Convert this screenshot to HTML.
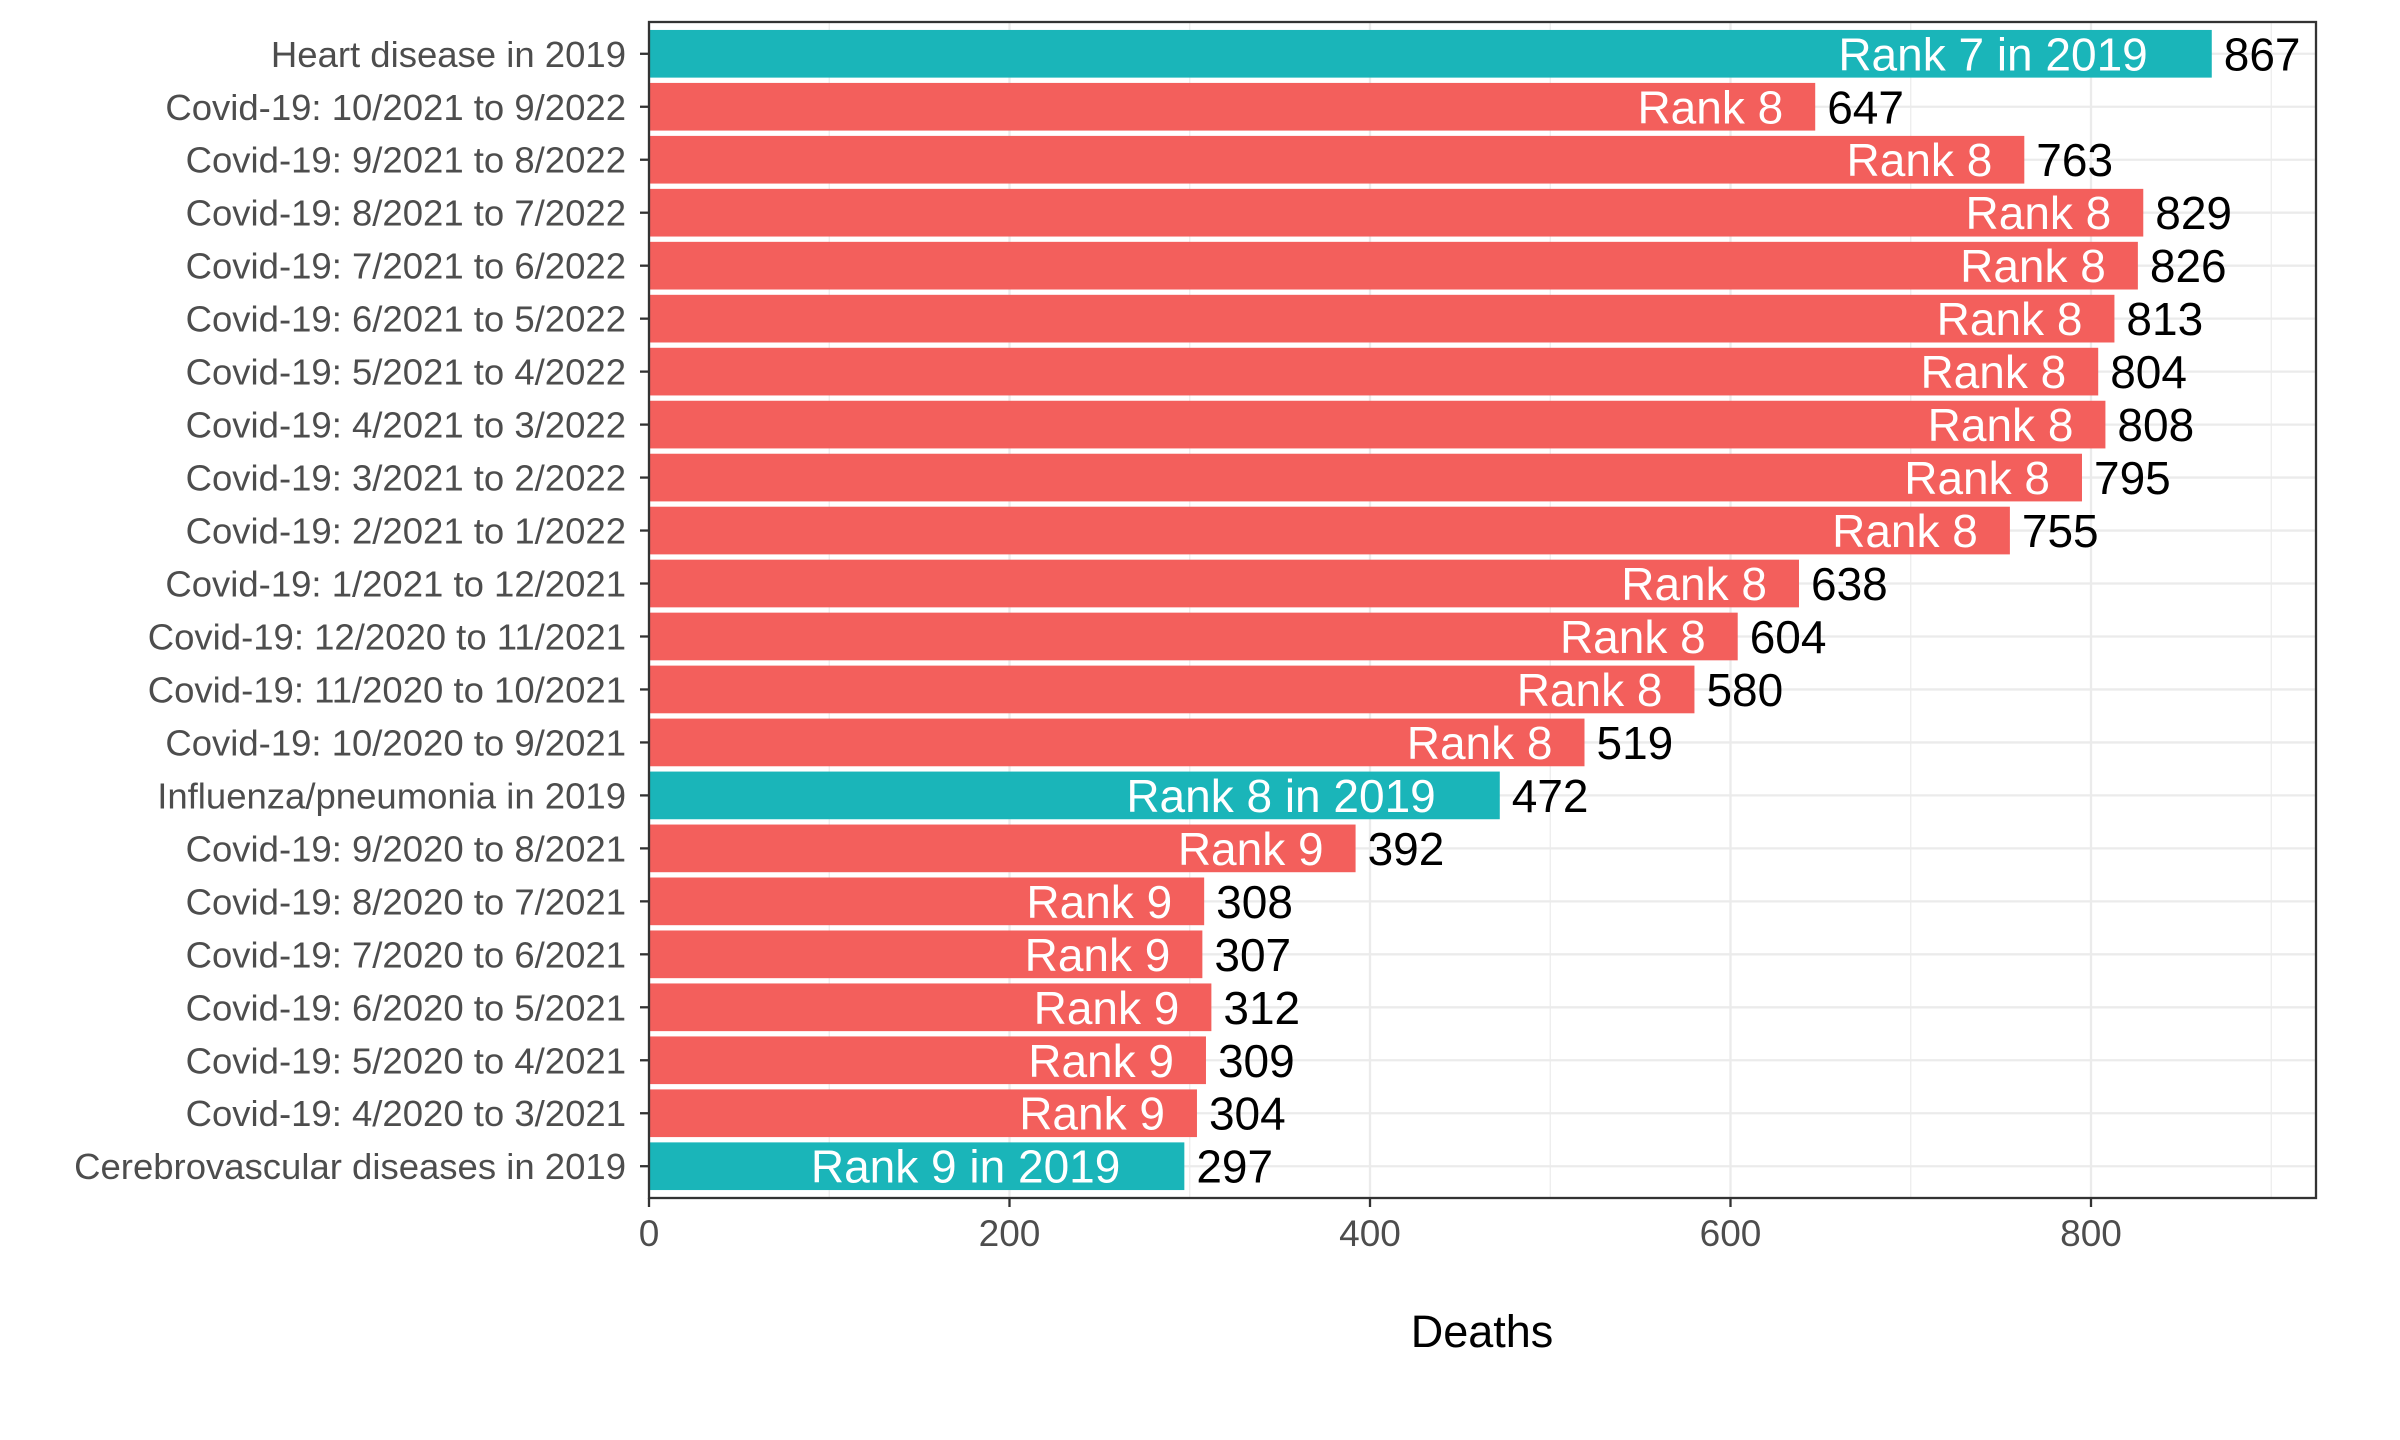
<!DOCTYPE html>
<html><head><meta charset="utf-8"><style>
html,body{margin:0;padding:0;background:#fff;}
svg{display:block;font-family:"Liberation Sans",Arial,sans-serif;}
</style></head><body>
<svg id="chart" width="2400" height="1440" viewBox="0 0 2400 1440" xmlns="http://www.w3.org/2000/svg">
<rect width="2400" height="1440" fill="#fff"/>
<g id="grid"></g>
<g id="bars"></g>
<g id="labels"></g>
<rect x="649" y="22" width="1667" height="1176" fill="none" stroke="#333" stroke-width="2.3"/>
<g id="yaxis"></g>
<g id="xaxis"></g>
<text x="1482" y="1347" font-size="45" text-anchor="middle" fill="#000">Deaths</text>
</svg>
<script>
const categories = ["Heart disease in 2019","Covid-19: 10/2021 to 9/2022","Covid-19: 9/2021 to 8/2022","Covid-19: 8/2021 to 7/2022","Covid-19: 7/2021 to 6/2022","Covid-19: 6/2021 to 5/2022","Covid-19: 5/2021 to 4/2022","Covid-19: 4/2021 to 3/2022","Covid-19: 3/2021 to 2/2022","Covid-19: 2/2021 to 1/2022","Covid-19: 1/2021 to 12/2021","Covid-19: 12/2020 to 11/2021","Covid-19: 11/2020 to 10/2021","Covid-19: 10/2020 to 9/2021","Influenza/pneumonia in 2019","Covid-19: 9/2020 to 8/2021","Covid-19: 8/2020 to 7/2021","Covid-19: 7/2020 to 6/2021","Covid-19: 6/2020 to 5/2021","Covid-19: 5/2020 to 4/2021","Covid-19: 4/2020 to 3/2021","Cerebrovascular diseases in 2019"];
const deaths = [867,647,763,829,826,813,804,808,795,755,638,604,580,519,472,392,308,307,312,309,304,297];
const rankLabels = ["Rank 7 in 2019","Rank 8","Rank 8","Rank 8","Rank 8","Rank 8","Rank 8","Rank 8","Rank 8","Rank 8","Rank 8","Rank 8","Rank 8","Rank 8","Rank 8 in 2019","Rank 9","Rank 9","Rank 9","Rank 9","Rank 9","Rank 9","Rank 9 in 2019"];
const isBaseline = [true,false,false,false,false,false,false,false,false,false,false,false,false,false,true,false,false,false,false,false,false,true];
const xTicks = [0,200,400,600,800];
const xMinor = [100,300,500,700,900];

const NS="http://www.w3.org/2000/svg";
const L=649,R=2316,T=22,B=1198;
const pxPerUnit=1.8025;
const x=v=>L+v*pxPerUnit;
const n=categories.length;
const step=(B-T)/(n-1+1.2);
const y=i=>T+(0.6+i)*step;
function mk(tag,attrs,parent){const e=document.createElementNS(NS,tag);for(const k in attrs)e.setAttribute(k,attrs[k]);parent.appendChild(e);return e;}
const grid=document.getElementById('grid'),bars=document.getElementById('bars'),labels=document.getElementById('labels'),yaxis=document.getElementById('yaxis'),xaxis=document.getElementById('xaxis');
xMinor.forEach(v=>{if(x(v)<R){const e=mk('line',{x1:x(v),x2:x(v),y1:T,y2:B,stroke:'#ebebeb','stroke-width':1.2},grid);

}});
xTicks.forEach(v=>{const e=mk('line',{x1:x(v),x2:x(v),y1:T,y2:B,stroke:'#ebebeb','stroke-width':2.3},grid);


const t=mk('line',{x1:x(v),x2:x(v),y1:B,y2:B+9,stroke:'#333','stroke-width':2.3},xaxis);


const tx=mk('text',{x:x(v),y:1246,'font-size':37,'text-anchor':'middle',fill:'#4d4d4d'},xaxis);
tx.textContent=v;

});
categories.forEach((c,i)=>{const cy=y(i);
const g=mk('line',{x1:L,x2:R,y1:cy,y2:cy,stroke:'#ebebeb','stroke-width':2.3},grid);


const bw=0.9*step;
const b=mk('rect',{x:L,y:cy-bw/2,width:x(deaths[i])-L,height:bw,fill:isBaseline[i]?'#1ab5b9':'#f35f5c'},bars);


const rl=mk('text',{x:x(deaths[i])-(isBaseline[i]?64:32),y:cy+16.5,'font-size':46,'text-anchor':'end',fill:'#fff'},labels);
rl.textContent=rankLabels[i];


const vl=mk('text',{x:x(deaths[i])+12,y:cy+16.5,'font-size':46,fill:'#000'},labels);
vl.textContent=deaths[i];


const tk=mk('line',{x1:L-9,x2:L,y1:cy,y2:cy,stroke:'#333','stroke-width':2.3},yaxis);


const yl=mk('text',{x:626,y:cy+13,'font-size':36.5,'text-anchor':'end',fill:'#4d4d4d'},yaxis);
yl.textContent=c;

});
</script>
</body></html>
